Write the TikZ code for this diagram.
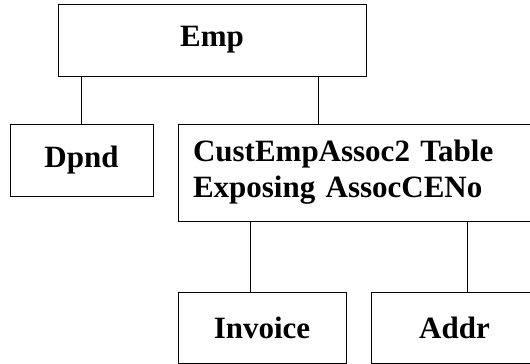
\documentclass[tikz,border=0pt]{standalone}
\usepackage{fontspec}
\setmainfont{Liberation Serif}
\usetikzlibrary{positioning}

\begin{document}
\begin{tikzpicture}[
  x=1pt, y=-1pt,
  font=\fontsize{31}{36}\selectfont\bfseries,
  tbl/.style={
    draw=black,
    line width=1pt,
    inner sep=0pt,
    minimum height=72pt,
  },
  link/.style={
    draw=black,
    line width=1pt,
  },
]
  \useasboundingbox (0,0) rectangle (530,364);
  \clip (0,0) rectangle (530,364);

  \node[tbl, minimum width=308pt] (emp) at (212,40) {Emp};
  \node[tbl, minimum width=143pt] (dpnd) at (81.5,160) {Dpnd};
  \node[
    tbl,
    minimum width=360pt,
    minimum height=97pt,
    text width=330pt,
    inner xsep=15pt,
    align=left,
  ] (assoc) at (358,172.5) {CustEmpAssoc2 Table\\Exposing AssocCENo};
  \node[tbl, minimum width=168pt, minimum height=71pt] (inv) at (262,327.5) {Invoice};
  \node[tbl, minimum width=167pt, minimum height=71pt] (addr) at (454.5,327.5) {Addr};

  % parent to child links
  \draw[link] (dpnd.north) -- (dpnd.north |- emp.south);
  \draw[link] ([xshift=106pt]emp.south) -- ([xshift=106pt]emp.south |- assoc.north);
  \draw[link] ([xshift=73pt]assoc.south west) -- ([xshift=73pt]assoc.south west |- inv.north);
  \draw[link] ([xshift=-71pt]assoc.south east) -- ([xshift=-71pt]assoc.south east |- addr.north);
\end{tikzpicture}
\end{document}
